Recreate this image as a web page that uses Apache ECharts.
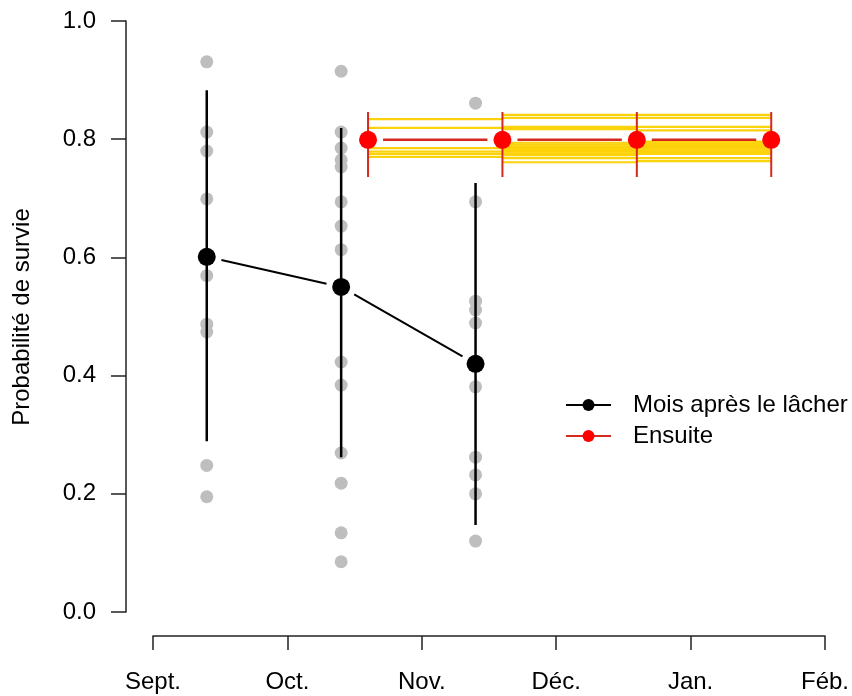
<!DOCTYPE html>
<html>
<head>
<meta charset="utf-8">
<script src="https://cdn.jsdelivr.net/npm/echarts@6/dist/echarts.min.js"></script>
<style>
html,body{margin:0;padding:0;background:#fff;}
#chart{width:852px;height:696px;}
</style>
</head>
<body>
<div id="chart"></div>
<script>
// ---- data ----
var monthLabels = ['Sept.', 'Oct.', 'Nov.', 'Déc.', 'Jan.', 'Féb.'];
var yTicks = [0, 0.2, 0.4, 0.6, 0.8, 1.0];

var meanX = [0.4, 1.4, 2.4];
var meanY = [0.601, 0.550, 0.420];
var meanLow = [0.289, 0.262, 0.147];
var meanHigh = [0.883, 0.819, 0.726];

var afterX = [1.6, 2.6, 3.6, 4.6];
var afterY = [0.799, 0.799, 0.799, 0.799];
var afterLow = [0.736, 0.736, 0.736, 0.736];
var afterHigh = [0.846, 0.846, 0.846, 0.846];

var greySept = [0.931, 0.812, 0.780, 0.699, 0.569, 0.487, 0.474, 0.248, 0.195];
var greyOct = [0.915, 0.812, 0.785, 0.765, 0.753, 0.694, 0.653, 0.613, 0.423, 0.384, 0.269, 0.218, 0.134, 0.085];
var greyNov = [0.861, 0.694, 0.526, 0.511, 0.489, 0.381, 0.262, 0.232, 0.200, 0.120];

var yellowSeg1 = [0.834, 0.819, 0.785, 0.779, 0.775, 0.770];
var yellowSeg2 = [0.841, 0.836, 0.821, 0.817, 0.794, 0.791, 0.788, 0.785, 0.782, 0.779, 0.776, 0.773, 0.768, 0.761];
var yellowSeg3 = [0.841, 0.836, 0.821, 0.815, 0.796, 0.793, 0.790, 0.787, 0.784, 0.781, 0.778, 0.775, 0.768, 0.763];

var nameMean = 'Mois après le lâcher';
var nameAfter = 'Ensuite';

// ---- build ----
var FONT = "'Liberation Sans', Arial, sans-serif";
function pairs(xs, ys) { return xs.map(function (x, i) { return [x, ys[i]]; }); }
function bars(xs, lo, hi) { return xs.map(function (x, i) { return [x, lo[i], hi[i]]; }); }
function segs(xs, ys) {
  var out = [];
  for (var i = 0; i < xs.length - 1; i++) out.push([xs[i], ys[i], xs[i + 1], ys[i + 1]]);
  return out;
}
var greyData = [];
greySept.forEach(function (v) { greyData.push([meanX[0], v]); });
greyOct.forEach(function (v) { greyData.push([meanX[1], v]); });
greyNov.forEach(function (v) { greyData.push([meanX[2], v]); });

var yellowData = [];
[yellowSeg1, yellowSeg2, yellowSeg3].forEach(function (arr, k) {
  arr.forEach(function (v) { yellowData.push([afterX[k], afterX[k + 1], v]); });
});

function errRender(color, width) {
  return function (params, api) {
    var a = api.coord([api.value(0), api.value(1)]);
    var b = api.coord([api.value(0), api.value(2)]);
    return { type: 'line', shape: { x1: a[0], y1: a[1], x2: b[0], y2: b[1] },
      style: { stroke: color, lineWidth: width } };
  };
}
function gapRender(color, width, gap) {
  return function (params, api) {
    var a = api.coord([api.value(0), api.value(1)]);
    var b = api.coord([api.value(2), api.value(3)]);
    var dx = b[0] - a[0], dy = b[1] - a[1];
    var len = Math.sqrt(dx * dx + dy * dy);
    var ux = dx / len, uy = dy / len;
    return { type: 'line', shape: { x1: a[0] + ux * gap, y1: a[1] + uy * gap, x2: b[0] - ux * gap, y2: b[1] - uy * gap },
      style: { stroke: color, lineWidth: width } };
  };
}
function hRender(color, width) {
  return function (params, api) {
    var a = api.coord([api.value(0), api.value(2)]);
    var b = api.coord([api.value(1), api.value(2)]);
    return { type: 'line', shape: { x1: a[0], y1: a[1], x2: b[0], y2: b[1] },
      style: { stroke: color, lineWidth: width } };
  };
}

var chart = echarts.init(document.getElementById('chart'), null, { renderer: 'canvas' });
chart.setOption({
  animation: false,
  backgroundColor: '#fff',
  textStyle: { fontFamily: FONT },
  grid: { left: 153, right: 24, top: 21, bottom: 84, containLabel: false },
  xAxis: {
    type: 'value', min: 0, max: 5, interval: 1, offset: 24,
    axisLine: { show: true, onZero: false, lineStyle: { color: '#222', width: 1.5 } },
    axisTick: { show: true, length: 14, lineStyle: { color: '#222', width: 1.5 } },
    axisLabel: { margin: 34, fontSize: 24, color: '#000', fontFamily: FONT,
      formatter: function (v) { return monthLabels[Math.round(v)] || ''; } },
    splitLine: { show: false }
  },
  yAxis: {
    type: 'value', min: yTicks[0], max: yTicks[yTicks.length - 1], interval: 0.2, offset: 27,
    axisLine: { show: true, onZero: false, lineStyle: { color: '#222', width: 1.5 } },
    axisTick: { show: true, length: 15, lineStyle: { color: '#222', width: 1.5 } },
    axisLabel: { margin: 30, fontSize: 24, color: '#000', fontFamily: FONT,
      formatter: function (v) { return v.toFixed(1); } },
    splitLine: { show: false }
  },
  graphic: [{
    type: 'text', x: 22, y: 317, rotation: Math.PI / 2,
    style: { text: 'Probabilité de survie', fontSize: 24, fontFamily: FONT, fill: '#000',
      textAlign: 'center', textVerticalAlign: 'middle' }
  }],
  legend: {
    orient: 'vertical', left: 565, top: 393, selectedMode: false, padding: 0,
    itemWidth: 45, itemHeight: 15, itemGap: 7,
    textStyle: { fontSize: 24, color: '#000', fontFamily: FONT, lineHeight: 24, padding: [0, 0, 0, 17] },
    data: [
      { name: nameMean, lineStyle: { color: '#000', width: 2, opacity: 1 }, itemStyle: { color: '#000' } },
      { name: nameAfter, lineStyle: { color: '#d42a1e', width: 2, opacity: 1 }, itemStyle: { color: '#ff0000' } }
    ]
  },
  series: [
    { type: 'custom', name: 'yellow', z: 1, silent: true, clip: false,
      renderItem: hRender('#fcd20a', 2.2), encode: { x: [0, 1], y: 2 }, data: yellowData },
    { type: 'scatter', name: 'grey', z: 2, silent: true, clip: false,
      symbol: 'circle', symbolSize: 13, itemStyle: { color: '#bebebe', opacity: 1 }, data: greyData },
    { type: 'custom', name: 'errMean', z: 3, silent: true, clip: false,
      renderItem: errRender('#000', 2.5), encode: { x: 0, y: [1, 2] }, data: bars(meanX, meanLow, meanHigh) },
    { type: 'custom', name: 'lineMean', z: 3, silent: true, clip: false,
      renderItem: gapRender('#000', 2, 15), encode: { x: [0, 2], y: [1, 3] }, data: segs(meanX, meanY) },
    { type: 'custom', name: 'lineAfter', z: 4, silent: true, clip: false,
      renderItem: gapRender('#d42a1e', 2.5, 15), encode: { x: [0, 2], y: [1, 3] }, data: segs(afterX, afterY) },
    { type: 'custom', name: 'errAfter', z: 4, silent: true, clip: false,
      renderItem: errRender('#d42a1e', 2), encode: { x: 0, y: [1, 2] }, data: bars(afterX, afterLow, afterHigh) },
    { type: 'line', name: nameMean, z: 5, silent: true, clip: false,
      symbol: 'circle', symbolSize: 18, showSymbol: true,
      itemStyle: { color: '#000' }, lineStyle: { opacity: 0, color: '#000' },
      data: pairs(meanX, meanY) },
    { type: 'line', name: nameAfter, z: 5, silent: true, clip: false,
      symbol: 'circle', symbolSize: 18, showSymbol: true,
      itemStyle: { color: '#ff0000' }, lineStyle: { opacity: 0, color: '#d42a1e' },
      data: pairs(afterX, afterY) }
  ]
});
</script>
</body>
</html>
